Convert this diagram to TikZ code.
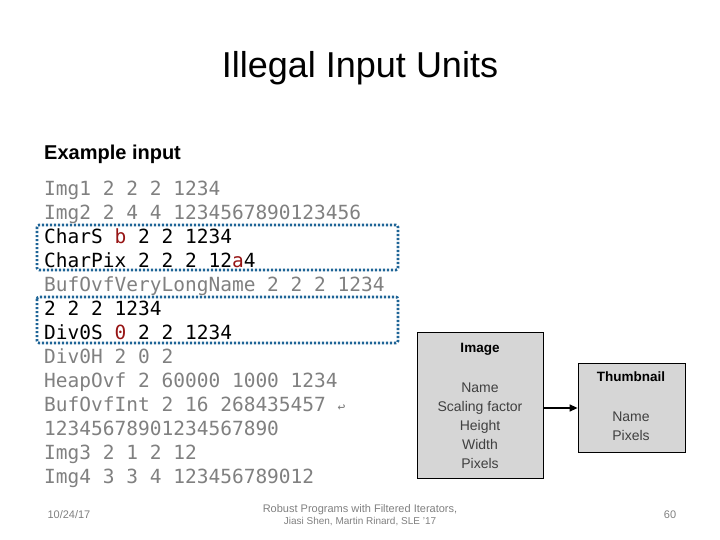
\documentclass[tikz,border=0pt]{standalone}
\usepackage{fontspec}
\setmainfont{Liberation Sans}
\newfontfamily\codefont{DejaVu Sans Mono}
\usetikzlibrary{arrows.meta}
\definecolor{gr}{RGB}{128,128,128}
\definecolor{dred}{RGB}{150,20,20}
\definecolor{dblue}{RGB}{30,100,150}
\definecolor{boxgray}{RGB}{214,214,214}
\begin{document}
\begin{tikzpicture}[x=1pt,y=-1pt,
  code/.style={anchor=base west,inner sep=0pt,font=\codefont\fontsize{19.5}{20}\selectfont},
  hl/.style={draw=dblue,line width=2.6pt,dash pattern=on 2.2pt off 1.8pt,rounded corners=2pt},
  cls/.style={draw=black,fill=boxgray,line width=0.8pt,inner sep=0pt}]
\useasboundingbox (0,0) rectangle (720,540);
\node (title) at (360,68) {\fontsize{36}{40}\selectfont Illegal Input Units};
\node[anchor=west,inner sep=0pt] (ex) at (44,154) {\fontsize{20}{22}\selectfont\bfseries Example input};
\node[code,text=gr] (l1) at (44,195.5) {Img1 2 2 2 1234};
\node[code,text=gr] (l2) at (44,219.5) {Img2 2 4 4 1234567890123456};
\node[code] (l3) at (44,243.5) {CharS \textcolor{dred}{b} 2 2 1234};
\node[code] (l4) at (44,267.5) {CharPix 2 2 2 12\textcolor{dred}{a}4};
\node[code,text=gr] (l5) at (44,291.5) {BufOvfVeryLongName 2 2 2 1234};
\node[code] (l6) at (44,315.5) {2 2 2 1234};
\node[code] (l7) at (44,339.5) {Div0S \textcolor{dred}{0} 2 2 1234};
\node[code,text=gr] (l8) at (44,363.5) {Div0H 2 0 2};
\node[code,text=gr] (l9) at (44,387.5) {HeapOvf 2 60000 1000 1234};
\node[code,text=gr] (l10) at (44,411.5) {BufOvfInt 2 16 268435457 {\fontsize{13}{14}\selectfont↩}};
\node[code,text=gr] (l11) at (44,435.5) {12345678901234567890};
\node[code,text=gr] (l12) at (44,459.5) {Img3 2 1 2 12};
\node[code,text=gr] (l13) at (44,483.5) {Img4 3 3 4 123456789012};
\draw[hl] (37,225) rectangle (398,270);
\draw[hl] (37,297) rectangle (398,343);
\node[cls,minimum width=126pt,minimum height=146pt] (img) at (480,405) {};
\node[font=\fontsize{13.5}{14}\selectfont\bfseries] (imgt) at (480,349) {Image};
\node[font=\fontsize{14}{19}\selectfont,align=center,text=black!75] (imgf) at (480,426) {Name\\Scaling factor\\Height\\Width\\Pixels};
\node[cls,minimum width=107pt,minimum height=89pt] (th) at (631.5,407.5) {};
\node[font=\fontsize{13.5}{14}\selectfont\bfseries] (tht) at (631,377) {Thumbnail};
\node[font=\fontsize{14}{19}\selectfont,align=center,text=black!75] (thf) at (631,426) {Name\\Pixels};
\draw[line width=1.3pt,-{Triangle[length=8pt,width=7pt]}] (img.east|-0,408) -- (th.west|-0,408);
\node[anchor=west,text=gr] (date) at (44,515) {\fontsize{11}{12}\selectfont 10/24/17};
\node[align=center,text=gr] (foot) at (360,515) {\fontsize{11}{18}\selectfont Robust Programs with Filtered Iterators,\\ Jiasi Shen, Martin Rinard, SLE '17};
\node[text=gr] (pg) at (670,515) {\fontsize{11}{12}\selectfont 60};
\end{tikzpicture}
\end{document}
